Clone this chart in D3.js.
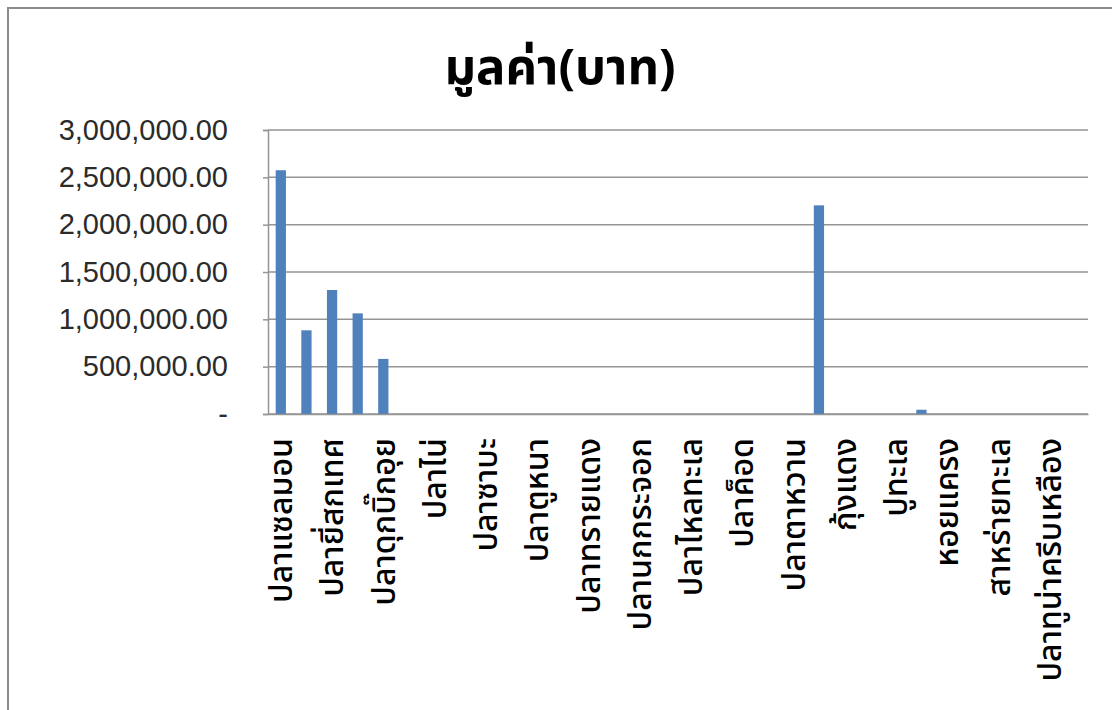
<!DOCTYPE html>
<html><head><meta charset="utf-8">
<script src="https://cdn.jsdelivr.net/npm/d3@7"></script>
<style>
html,body{margin:0;padding:0;background:#fff;}
svg{display:block;}
</style></head>
<body>
<svg id="chart" width="1112" height="710"></svg>
<script>
const title = "มูลค่า(บาท)";
// 32 categories; only every second label is shown in the picture (others unreadable)
const categories = [
  "ปลาแซลมอน","","ปลายี่สกเทศ","","ปลาดุกบิ๊กอุย","","ปลาไน่","",
  "ปลาซาบะ","","ปลาตูหนา","","ปลาทรายแดง","","ปลานกกระจอก","",
  "ปลาไหลทะเล","","ปลาค็อด","","ปลาตาหวาน","","กุ้งแดง","",
  "ปูทะเล","","หอยแครง","","สาหร่ายทะเล","","ปลาทูน่าครีบเหลือง",""
];
const values = [
  2575000, 884000, 1310000, 1063000, 582000, 0, 0, 0,
  0, 0, 0, 0, 0, 0, 0, 0,
  0, 0, 0, 0, 0, 2204000, 0, 0,
  0, 45000, 0, 0, 0, 0, 0, 0
];
const yTicks = [0, 500000, 1000000, 1500000, 2000000, 2500000, 3000000];

const svg = d3.select("#chart");
const W = 1112, H = 710;
const plot = {left: 268, top: 130, right: 1088, bottom: 414};

// outer chart border
svg.append("rect").attr("x", 8).attr("y", 8).attr("width", W + 20).attr("height", H + 20)
  .attr("fill", "#fff").attr("stroke", "#8c8c8c").attr("stroke-width", 2);

const x = d3.scaleBand().domain(d3.range(categories.length))
  .range([plot.left, plot.right]).paddingInner(0.6).paddingOuter(0.3);
const y = d3.scaleLinear().domain([0, 3000000]).range([plot.bottom, plot.top]);

const fmt = d3.format(",.2f");
const thaiFont = "'Noto Sans Thai','Noto Sans Thai UI','Tahoma','Noto Sans',sans-serif";

// gridlines
svg.append("g").selectAll("line").data(yTicks).join("line")
  .attr("x1", plot.left).attr("x2", plot.right)
  .attr("y1", d => y(d)).attr("y2", d => y(d))
  .attr("stroke", "#959595").attr("stroke-width", 1.5);

// y axis
const yAxis = svg.append("g").attr("transform", `translate(${plot.left},0)`)
  .call(d3.axisLeft(y).tickValues(yTicks).tickSize(5).tickPadding(35)
    .tickFormat(d => d === 0 ? "-" : fmt(d)));
yAxis.select(".domain").attr("stroke", "#959595").attr("stroke-width", 1.5);
yAxis.selectAll(".tick line").attr("stroke", "#959595").attr("stroke-width", 1.5);
yAxis.selectAll(".tick text").attr("font-family", "'Liberation Sans',Arial,sans-serif")
  .attr("font-size", 29).attr("fill", "#2b2b2b").attr("dy", "0.32em");

// bars
svg.append("g").selectAll("rect").data(values).join("rect")
  .attr("x", (d, i) => x(i)).attr("width", x.bandwidth())
  .attr("y", d => y(d)).attr("height", d => y(0) - y(d))
  .attr("fill", "#4F81BD");

// x axis
const xAxis = svg.append("g").attr("transform", `translate(0,${plot.bottom})`)
  .call(d3.axisBottom(x).tickSize(0).tickFormat(i => categories[i]));
xAxis.select(".domain").attr("stroke", "#959595").attr("stroke-width", 1.5);
xAxis.selectAll(".tick text")
  .attr("font-family", thaiFont).attr("font-size", 32).attr("fill", "#000")
  .attr("font-weight", 500)
  .attr("transform", "rotate(-90)")
  .attr("text-anchor", "end")
  .attr("x", -24).attr("y", 0).attr("dy", "0.35em");

// title
svg.append("text").attr("x", 560).attr("y", 84).attr("text-anchor", "middle")
  .attr("font-family", thaiFont).attr("font-weight", "bold").attr("font-size", 49)
  .attr("fill", "#000").text(title);
</script>
</body></html>
